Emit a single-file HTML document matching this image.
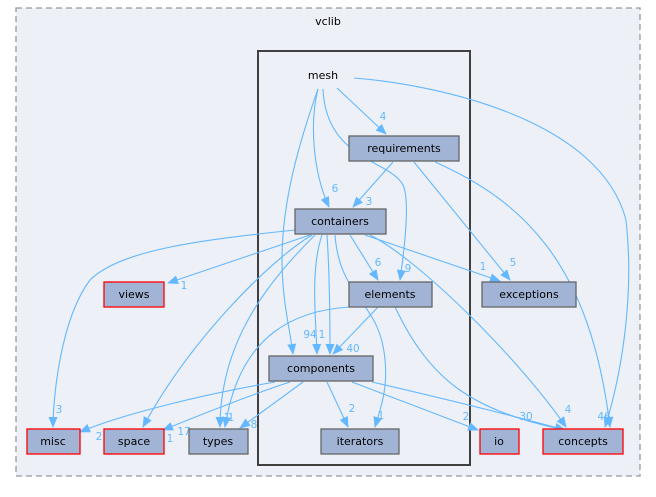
<!DOCTYPE html>
<html><head><meta charset="utf-8"><style>
html,body{margin:0;padding:0;background:#fff;}
svg text{font-family:"DejaVu Sans","Liberation Sans",sans-serif;}
.n{fill:#a2b4d6;stroke:#666;stroke-width:1.3}
.r{fill:#a2b4d6;stroke:#ff0000;stroke-width:1.3}
.e{fill:none;stroke:#63b8ff;stroke-width:1.1}
.t{font-size:11px;fill:#000;text-anchor:middle}
.l{font-size:10.5px;fill:#63b8ff;text-anchor:middle}
</style></head><body>
<svg width="656" height="492" viewBox="0 0 656 492" xmlns="http://www.w3.org/2000/svg">
<defs><marker id="a" markerWidth="11" markerHeight="9" refX="10" refY="4.5" orient="auto" markerUnits="userSpaceOnUse"><path d="M0,0 L11,4.5 L0,9 z" fill="#63b8ff"/></marker></defs>
<rect x="16" y="8" width="624" height="468" fill="#edf0f7" stroke="#999" stroke-width="1.3" stroke-dasharray="6,4"/>
<text x="328" y="25" class="t">vclib</text>
<rect x="258" y="51" width="212" height="414" fill="#edf0f7" stroke="#404040" stroke-width="2"/>
<text x="323" y="79" class="t">mesh</text>

<g class="e" marker-end="url(#a)">
<path d="M337,88 L386,134"/>
<path d="M318,89 C310,120 312,170 329,207"/>
<path d="M323,89 C326,160 390,160 403,185 C410,200 405,245 400,280"/>
<path d="M318,89 C300,140 282,200 282,260 C282,300 290,330 293,354"/>
<path d="M354,78 C440,85 600,120 626,220 C635,300 620,380 605,427"/>
<path d="M393,162 L353,207"/>
<path d="M414,162 L510,280"/>
<path d="M435,162 C520,200 590,260 610,427"/>
<path d="M295,230 C200,240 120,250 90,280 C60,320 53,400 53,427"/>
<path d="M310,235 L168,283"/>
<path d="M312,235 C270,260 190,340 143,427"/>
<path d="M315,235 C270,280 220,340 220,427"/>
<path d="M322,235 C310,270 316,320 317,354"/>
<path d="M335,235 C340,300 380,300 385,360 C388,390 380,410 375,427"/>
<path d="M350,235 L378,280"/>
<path d="M365,235 L500,281"/>
<path d="M370,235 C420,260 520,360 566,427"/>
<path d="M327,235 C330,280 330,330 330,354"/>
<path d="M350,307 C300,310 240,330 225,427"/>
<path d="M378,307 L333,354"/>
<path d="M395,307 C430,380 470,410 565,430"/>
<path d="M275,382 C200,395 120,415 80,432"/>
<path d="M290,382 C250,395 200,415 163,430"/>
<path d="M303,382 L240,428"/>
<path d="M327,382 L348,427"/>
<path d="M352,382 L478,430"/>
<path d="M372,382 C450,400 510,415 565,430"/>
</g>

<g class="l">
<text x="383" y="120">4</text>
<text x="335" y="192">6</text>
<text x="369" y="205">3</text>
<text x="408" y="272">9</text>
<text x="513" y="266">5</text>
<text x="483" y="270">1</text>
<text x="378" y="266">6</text>
<text x="184" y="289">1</text>
<text x="170" y="442">1</text>
<text x="310" y="338">94</text>
<text x="322" y="338">1</text>
<text x="353" y="352">40</text>
<text x="59" y="413">3</text>
<text x="99" y="440">2</text>
<text x="184" y="435">17</text>
<text x="227" y="421">1</text>
<text x="231" y="421">1</text>
<text x="254" y="428">8</text>
<text x="352" y="412">2</text>
<text x="381" y="419">1</text>
<text x="466" y="420">2</text>
<text x="526" y="420">30</text>
<text x="568" y="413">4</text>
<text x="604" y="420">46</text>
</g>

<rect x="349" y="136" width="110" height="25" class="n"/><text x="404" y="152" class="t">requirements</text>
<rect x="295" y="209" width="91" height="25" class="n"/><text x="340" y="225" class="t">containers</text>
<rect x="349" y="282" width="83" height="25" class="n"/><text x="390" y="298" class="t">elements</text>
<rect x="482" y="282" width="94" height="25" class="n"/><text x="529" y="298" class="t">exceptions</text>
<rect x="104" y="282" width="60" height="25" class="r"/><text x="134" y="298" class="t">views</text>
<rect x="269" y="356" width="104" height="25" class="n"/><text x="321" y="372" class="t">components</text>
<rect x="27" y="429" width="53" height="25" class="r"/><text x="53" y="445" class="t">misc</text>
<rect x="104" y="429" width="60" height="25" class="r"/><text x="134" y="445" class="t">space</text>
<rect x="189" y="429" width="59" height="25" class="n"/><text x="218" y="445" class="t">types</text>
<rect x="321" y="429" width="78" height="25" class="n"/><text x="360" y="445" class="t">iterators</text>
<rect x="480" y="429" width="39" height="25" class="r"/><text x="499" y="445" class="t">io</text>
<rect x="543" y="429" width="80" height="25" class="r"/><text x="583" y="445" class="t">concepts</text>
</svg>
</body></html>
